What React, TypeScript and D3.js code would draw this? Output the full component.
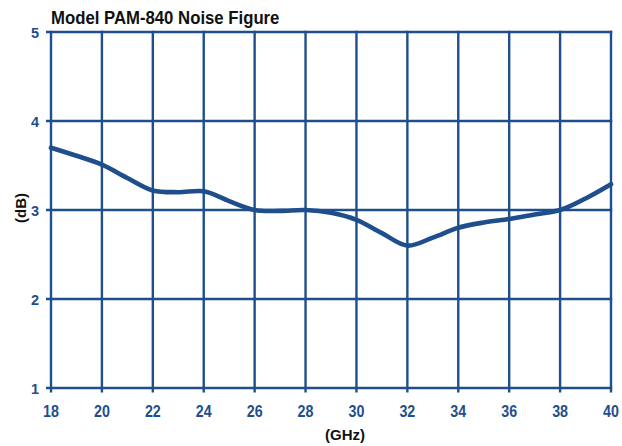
import { useEffect, useRef } from "react";
import * as d3 from "d3";

// noise figure (GHz, dB)
const freqs = [18, 19, 20, 21, 22, 23, 24, 25, 26, 27, 28, 29, 30, 31, 32, 33, 34, 35, 36, 37, 38, 39, 40];
const noise = [3.7, 3.61, 3.51, 3.36, 3.22, 3.2, 3.21, 3.1, 3.0, 2.99, 3.0, 2.97, 2.89, 2.74, 2.6, 2.69, 2.8, 2.86, 2.9, 2.95, 3.0, 3.13, 3.29];
const xTicks = [18, 20, 22, 24, 26, 28, 30, 32, 34, 36, 38, 40];
const yTicks = [1, 2, 3, 4, 5];

const W = 622;
const H = 446;
const BLUE = "#1e4f8c";
const FONT = "'Liberation Sans', Arial, sans-serif";

export default function App() {
  const svgRef = useRef<SVGSVGElement>(null);

  useEffect(() => {
    if (!svgRef.current) return;
    const svg = d3.select(svgRef.current);
    svg.selectAll("*").remove();

    const x = d3.scaleLinear().domain([18, 40]).range([51, 611]);
    const y = d3.scaleLinear().domain([1, 5]).range([388, 32]);

    // ── grid ─────────────────────────────
    const grid = svg.append("g").attr("stroke", BLUE).attr("stroke-width", 2.4);
    xTicks.forEach(t => {
      grid.append("line")
        .attr("x1", x(t)).attr("x2", x(t))
        .attr("y1", y(5) - 1.2).attr("y2", y(1) + 4.5);
    });
    yTicks.forEach(t => {
      grid.append("line")
        .attr("x1", x(18) - 5).attr("x2", x(40) + 1.2)
        .attr("y1", y(t)).attr("y2", y(t));
    });

    // ── tick labels ──────────────────────
    xTicks.forEach(t => {
      svg.append("text")
        .attr("transform", `translate(${x(t)},416.5) scale(0.84,1)`)
        .attr("text-anchor", "middle")
        .attr("fill", BLUE)
        .attr("font-size", 17)
        .attr("font-weight", "bold")
        .style("font-family", FONT)
        .text(t);
    });
    yTicks.forEach(t => {
      svg.append("text")
        .attr("x", 39).attr("y", y(t) + 5.5)
        .attr("text-anchor", "end")
        .attr("fill", BLUE)
        .attr("font-size", 14.5)
        .attr("font-weight", "bold")
        .style("font-family", FONT)
        .text(t);
    });

    // ── curve ────────────────────────────
    const line = d3.line<number>()
      .x((_, i) => x(freqs[i]))
      .y(d => y(d))
      .curve(d3.curveCatmullRom.alpha(0.5));
    svg.append("path")
      .datum(noise)
      .attr("d", line)
      .attr("fill", "none")
      .attr("stroke", BLUE)
      .attr("stroke-width", 4.6)
      .attr("stroke-linecap", "round")
      .attr("stroke-linejoin", "round");

    // ── titles ───────────────────────────
    svg.append("text")
      .attr("transform", "translate(51,24) scale(0.93,1)")
      .attr("fill", "#111")
      .attr("font-size", 18)
      .attr("font-weight", "bold")
      .style("font-family", FONT)
      .text("Model PAM-840 Noise Figure");

    svg.append("text")
      .attr("x", 345).attr("y", 440)
      .attr("text-anchor", "middle")
      .attr("fill", "#111")
      .attr("font-size", 15)
      .attr("font-weight", "bold")
      .style("font-family", FONT)
      .text("(GHz)");

    svg.append("text")
      .attr("transform", "translate(25.5,208) rotate(-90)")
      .attr("text-anchor", "middle")
      .attr("fill", "#111")
      .attr("font-size", 15)
      .attr("font-weight", "bold")
      .style("font-family", FONT)
      .text("(dB)");
  }, []);

  return (
    <svg
      ref={svgRef}
      width={W}
      height={H}
      style={{ position: "absolute", left: 0, top: 0, background: "#fff" }}
    />
  );
}
